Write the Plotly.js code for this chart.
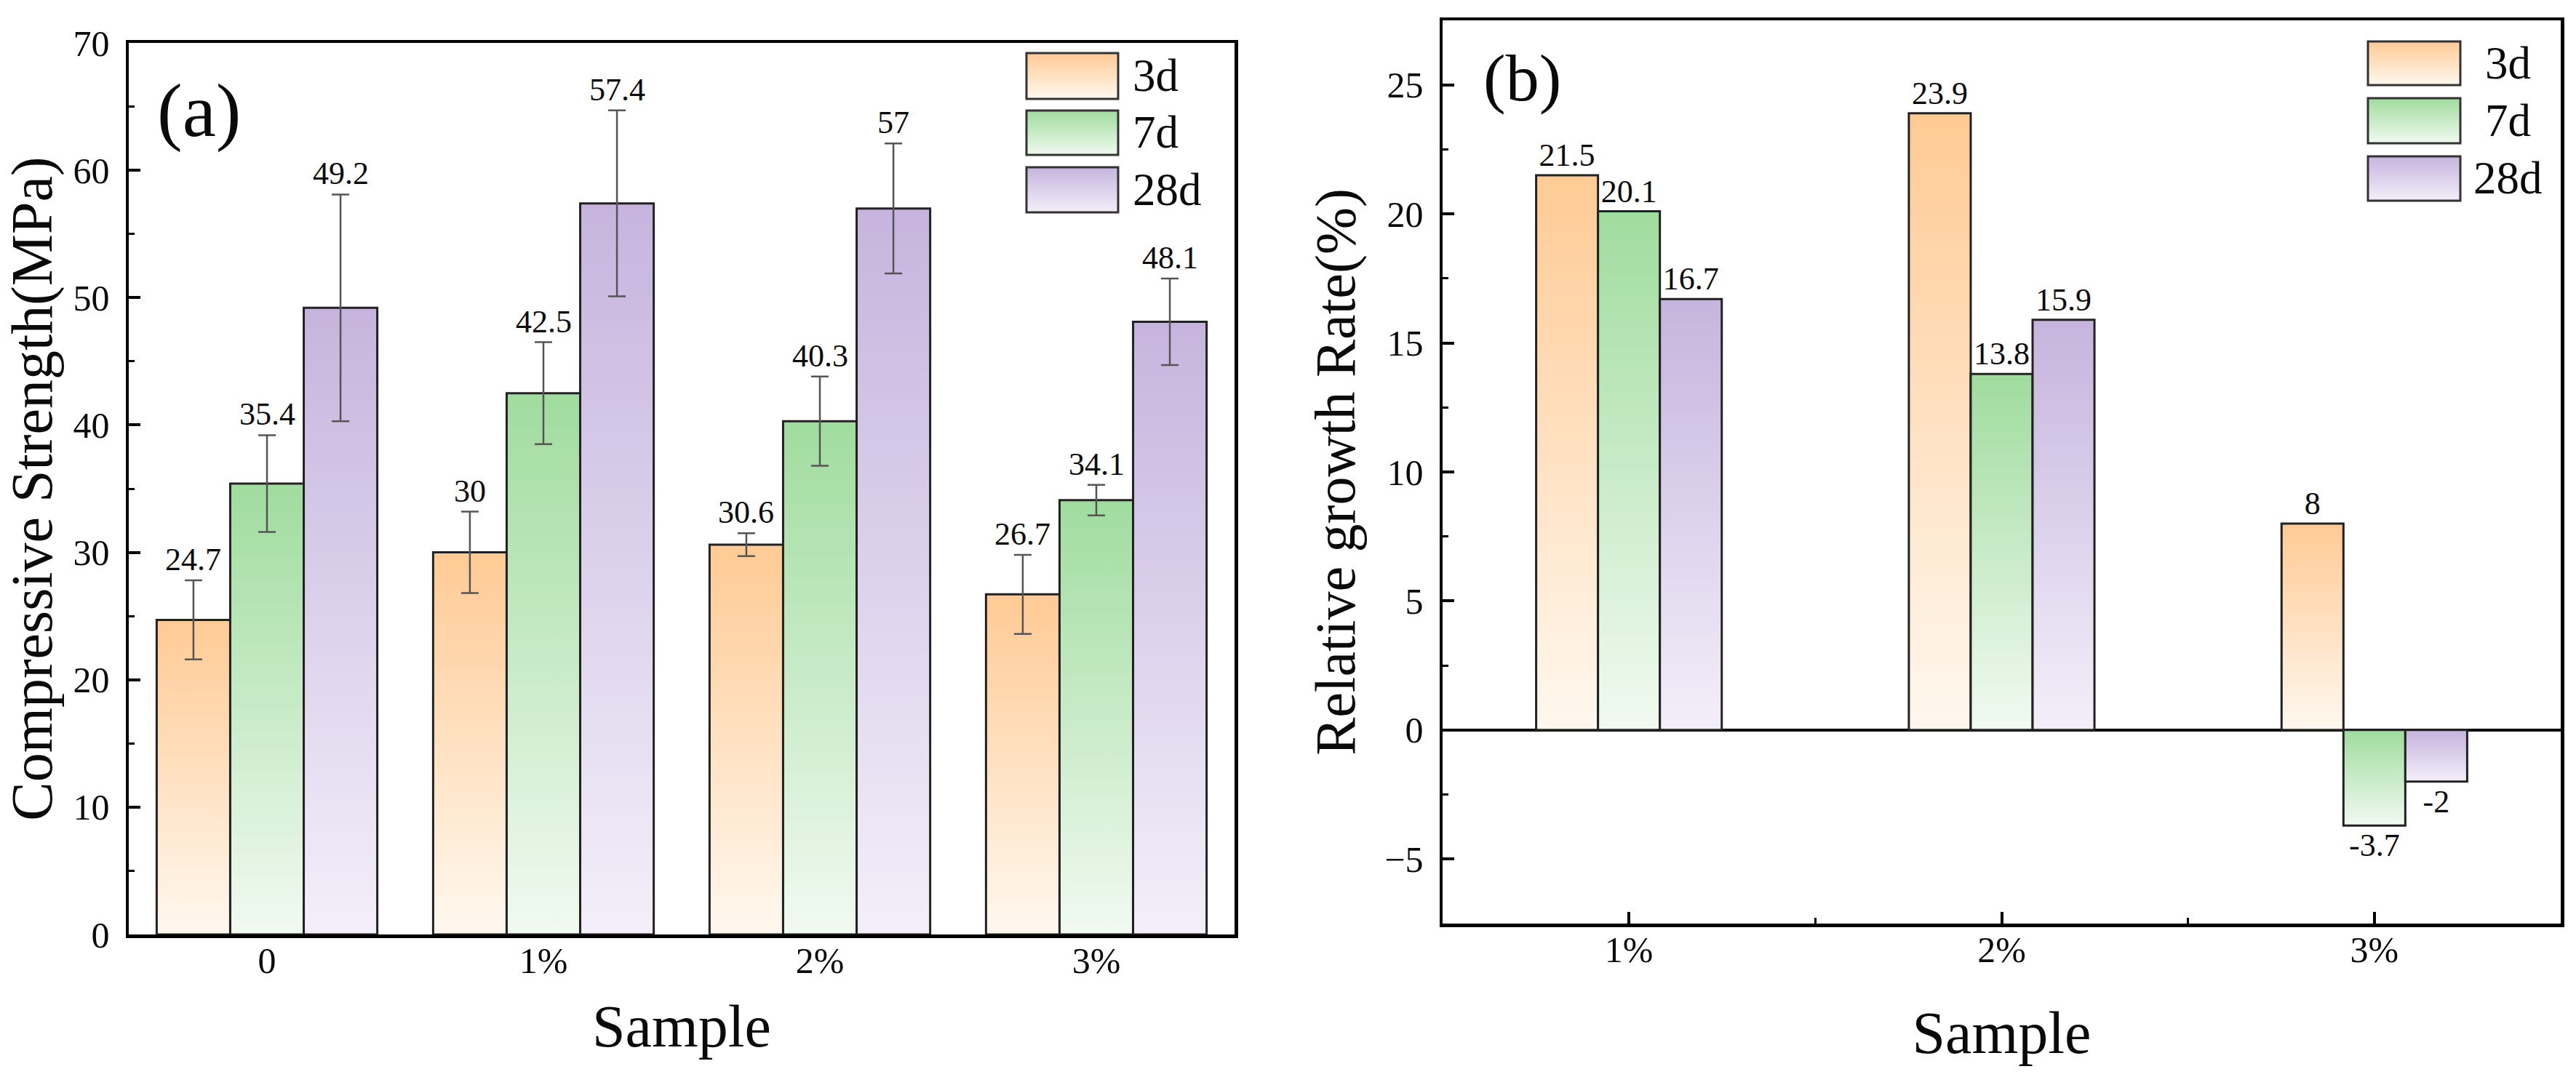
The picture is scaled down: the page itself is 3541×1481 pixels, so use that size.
<!DOCTYPE html>
<html>
<head>
<meta charset="utf-8">
<script src="https://cdn.plot.ly/plotly-3.0.1.min.js"></script>
<style>
html,body{margin:0;padding:0;background:#fff;font-family:'Liberation Serif',serif;}
#chart{width:3541px;height:1481px;}
</style>
</head>
<body>
<svg width="0" height="0" style="position:absolute">
  <defs>
    <linearGradient id="g3d" x1="0" y1="0" x2="0" y2="1">
      <stop offset="0" stop-color="#FFCA94"/>
      <stop offset="1" stop-color="#FFF8EF"/>
    </linearGradient>
    <linearGradient id="g7d" x1="0" y1="0" x2="0" y2="1">
      <stop offset="0" stop-color="#A0DC9E"/>
      <stop offset="1" stop-color="#F1FAF1"/>
    </linearGradient>
    <linearGradient id="g28d" x1="0" y1="0" x2="0" y2="1">
      <stop offset="0" stop-color="#C6B4DE"/>
      <stop offset="1" stop-color="#F3EFF9"/>
    </linearGradient>
  </defs>
</svg>
<div id="chart"></div>
<script>
// ---------------- data ----------------
const seriesNames = ['3d', '7d', '28d'];

const categoriesA = ['0', '1%', '2%', '3%'];
const strength3d  = [24.7, 30, 30.6, 26.7];
const strength7d  = [35.4, 42.5, 40.3, 34.1];
const strength28d = [49.2, 57.4, 57, 48.1];
const err3d  = [3.1, 3.2, 0.9, 3.1];
const err7d  = [3.8, 4.0, 3.5, 1.2];
const err28d = [8.9, 7.3, 5.1, 3.4];

const categoriesB = ['1%', '2%', '3%'];
const growth3d  = [21.5, 23.9, 8];
const growth7d  = [20.1, 13.8, -3.7];
const growth28d = [16.7, 15.9, -2];

const ticksA = [0, 10, 20, 30, 40, 50, 60, 70];
const ticksB = [-5, 0, 5, 10, 15, 20, 25];

// ---------------- styling ----------------
const FONT = 'Liberation Serif, DejaVu Serif, serif';
const INK = '#0a0a0a';
const W = 3541, H = 1481;
const px = v => v / W;
const py = v => 1 - v / H;
const baseColors = ['#FFCA94', '#A0DC9E', '#C6B4DE'];
const gradIds = ['g3d', 'g7d', 'g28d'];
const barLine = {color: '#222', width: 3};

const xIdxA = categoriesA.map((_, i) => i);
const xIdxB = categoriesB.map((_, i) => i);
const wA = 0.266, wB = 0.166;

const seriesA = [strength3d, strength7d, strength28d];
const errsA = [err3d, err7d, err28d];
const seriesB = [growth3d, growth7d, growth28d];

const traces = [];
const annotations = [];

seriesA.forEach((vals, k) => {
  const off = (k - 1.5) * wA;
  traces.push({
    type: 'bar', x: xIdxA, y: vals, width: wA, offset: off,
    xaxis: 'x', yaxis: 'y', name: seriesNames[k], meta: gradIds[k],
    marker: {color: baseColors[k], line: barLine},
    error_y: {type: 'data', array: errsA[k], visible: true, color: '#555', thickness: 2.5, width: 12},
    showlegend: false, hoverinfo: 'skip'
  });
  vals.forEach((v, i) => {
    annotations.push({
      xref: 'x', yref: 'y', x: xIdxA[i] + off + wA / 2, y: v + errsA[k][i],
      text: String(v), showarrow: false, xanchor: 'center', yanchor: 'bottom', yshift: 2,
      font: {family: FONT, size: 44, color: INK}
    });
  });
});

seriesB.forEach((vals, k) => {
  const off = (k - 1.5) * wB;
  traces.push({
    type: 'bar', x: xIdxB, y: vals, width: wB, offset: off,
    xaxis: 'x2', yaxis: 'y2', name: seriesNames[k], meta: gradIds[k],
    marker: {color: baseColors[k], line: barLine},
    text: vals.map(String), textposition: 'outside', constraintext: 'none', cliponaxis: false,
    textfont: {family: FONT, size: 44, color: INK},
    showlegend: false, hoverinfo: 'skip'
  });
});

// custom legends (large rectangular swatches)
const shapes = [];
const legA = {x0: 1411, x1: 1537, rows: [[73, 136], [152, 213], [230, 292]], tx: 1555, anchor: 'left'};
const legB = {x0: 3255, x1: 3382, rows: [[57, 117], [135, 197], [215, 276]], tx: 3447, anchor: 'center'};
[legA, legB].forEach(L => {
  L.rows.forEach((r, k) => {
    shapes.push({
      type: 'rect', xref: 'paper', yref: 'paper', name: gradIds[k],
      x0: px(L.x0), x1: px(L.x1), y0: py(r[1]), y1: py(r[0]),
      fillcolor: baseColors[k], line: {color: '#333', width: 3}, layer: 'above'
    });
    annotations.push({
      xref: 'paper', yref: 'paper', x: px(L.tx), y: py((r[0] + r[1]) / 2),
      text: seriesNames[k], showarrow: false, xanchor: L.anchor, yanchor: 'middle',
      font: {family: FONT, size: 63, color: INK}
    });
  });
});

annotations.push({xref: 'paper', yref: 'paper', x: px(273), y: py(152), text: '(a)', showarrow: false,
  xanchor: 'center', yanchor: 'middle', font: {family: FONT, size: 104, color: INK}});
annotations.push({xref: 'paper', yref: 'paper', x: px(2092), y: py(107), text: '(b)', showarrow: false,
  xanchor: 'center', yanchor: 'middle', font: {family: FONT, size: 92, color: INK}});

const axisCommon = {
  showline: true, linecolor: '#000', linewidth: 4.5, mirror: true,
  showgrid: false, zeroline: false, color: '#000',
  tickfont: {family: FONT, size: 50, color: INK}
};

const layout = {
  width: W, height: H, margin: {l: 0, r: 0, t: 0, b: 0},
  paper_bgcolor: '#fff', plot_bgcolor: '#fff',
  barmode: 'overlay', showlegend: false,
  font: {family: FONT, color: INK},
  xaxis: Object.assign({}, axisCommon, {
    domain: [px(177), px(1697)], anchor: 'y', range: [-0.5, 3.5],
    tickmode: 'array', tickvals: xIdxA, ticktext: categoriesA, ticks: '',
    ticklabelstandoff: -12,
    title: {text: 'Sample', font: {family: FONT, size: 82, color: INK}, standoff: 35}
  }),
  yaxis: Object.assign({}, axisCommon, {
    domain: [py(1285), py(59)], anchor: 'x', range: [0, 70],
    tickmode: 'array', tickvals: ticksA, ticks: 'inside', ticklen: 16, tickwidth: 4, tickcolor: '#000',
    minor: {dtick: 5, tick0: 0, ticks: 'inside', ticklen: 8, tickwidth: 3, tickcolor: '#000', showgrid: false},
    ticklabelstandoff: 12,
    title: {text: 'Compressive Strength(MPa)', font: {family: FONT, size: 80, color: INK}, standoff: 12}
  }),
  xaxis2: Object.assign({}, axisCommon, {
    domain: [px(1983), px(3520)], anchor: 'y2', range: [-0.5, 2.5],
    tickmode: 'array', tickvals: xIdxB, ticktext: categoriesB,
    ticks: 'inside', ticklen: 16, tickwidth: 4, tickcolor: '#000',
    minor: {tickmode: 'array', tickvals: [0.5, 1.5], ticks: 'inside', ticklen: 8, tickwidth: 3, tickcolor: '#000', showgrid: false},
    ticklabelstandoff: -12,
    title: {text: 'Sample', font: {family: FONT, size: 82, color: INK}, standoff: 59}
  }),
  yaxis2: Object.assign({}, axisCommon, {
    domain: [py(1270), py(28)], anchor: 'x2', range: [-7.5, 27.5],
    tickmode: 'array', tickvals: ticksB, ticks: 'inside', ticklen: 16, tickwidth: 4, tickcolor: '#000',
    minor: {dtick: 2.5, tick0: 0, ticks: 'inside', ticklen: 8, tickwidth: 3, tickcolor: '#000', showgrid: false},
    zeroline: true, zerolinecolor: '#000', zerolinewidth: 3.5,
    ticklabelstandoff: 12,
    title: {text: 'Relative growth Rate(%)', font: {family: FONT, size: 78, color: INK}, standoff: 16}
  }),
  shapes: shapes,
  annotations: annotations
};

function applyGradients(gd) {
  gd.querySelectorAll('g.trace.bars').forEach(g => {
    const cd = g.__data__;
    const tr = cd && cd[0] && cd[0].trace;
    if (!tr || !tr.meta) return;
    g.querySelectorAll('.point path').forEach(p => { p.style.fill = 'url(#' + tr.meta + ')'; });
  });
  gd.querySelectorAll('.shapelayer path').forEach(p => {
    const idx = +p.getAttribute('data-index');
    const sh = gd.layout.shapes[idx];
    if (sh && sh.name) p.style.fill = 'url(#' + sh.name + ')';
  });
}

const gd = document.getElementById('chart');
Plotly.newPlot(gd, traces, layout, {staticPlot: true, displayModeBar: false}).then(() => {
  applyGradients(gd);
  gd.on('plotly_afterplot', () => applyGradients(gd));
});
</script>
</body>
</html>
